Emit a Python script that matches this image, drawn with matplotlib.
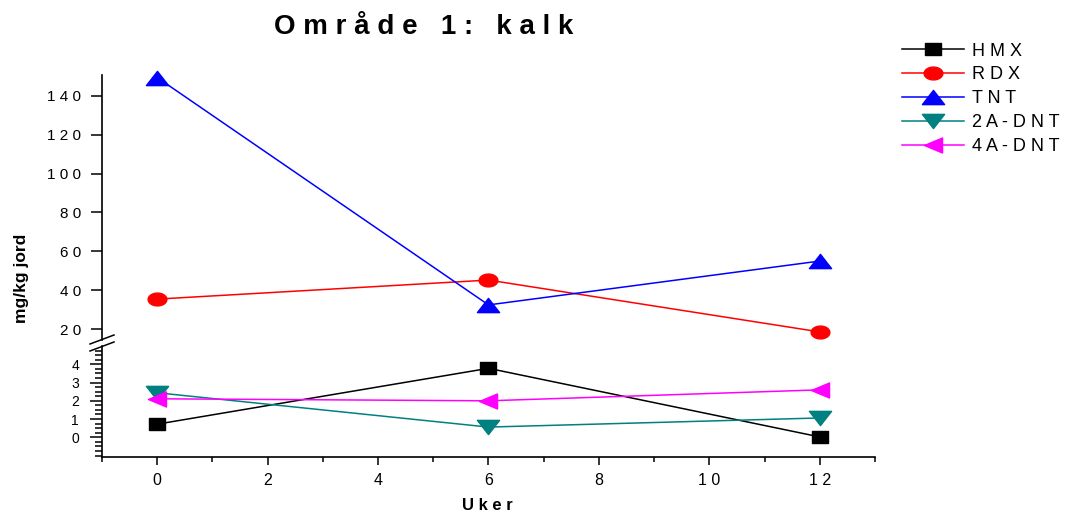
import numpy as np
import matplotlib
matplotlib.use("Agg")
import matplotlib.pyplot as plt
from matplotlib.path import Path
from matplotlib.lines import Line2D

plt.rcParams['font.family'] = ['Liberation Sans', 'DejaVu Sans']

# ---- data ----
weeks = [0, 6, 12]
hmx = [0.72, 3.78, 0.02]
rdx = [35.4, 45.2, 18.5]
tnt = [149.5, 32.4, 55.0]
a2dnt = [2.44, 0.56, 1.06]
a4dnt = [2.11, 2.0, 2.6]
labels = ["HMX", "RDX", "TNT", "2A-DNT", "4A-DNT"]
upper_ticks = [20, 40, 60, 80, 100, 120, 140]
lower_ticks = [0, 1, 2, 3, 4]
x_ticks = [0, 2, 4, 6, 8, 10, 12]


def sp(s):
    return ' '.join(s)


W, H = 1070, 513
fig = plt.figure(figsize=(W / 100, H / 100), dpi=100)


def fx(px):
    return px / W


def fy(py):
    return 1 - py / H


left, right = 102, 875
ax_up = fig.add_axes([fx(left), fy(340), fx(right - left), fy(75) - fy(340)])
ax_lo = fig.add_axes([fx(left), fy(457), fx(right - left), fy(346) - fy(457)])

# stretched markers
sq = Path([(-0.66, -0.5), (0.66, -0.5), (0.66, 0.5), (-0.66, 0.5), (-0.66, -0.5)],
          [1, 2, 2, 2, 79])
t = np.linspace(0, 2 * np.pi, 60)
ell = Path(np.column_stack([0.73 * np.cos(t), 0.5 * np.sin(t)]), closed=True)
tri_up = Path([(-0.78, -0.5), (0.78, -0.5), (0, 0.5), (-0.78, -0.5)], [1, 2, 2, 79])
tri_dn = Path([(-0.78, 0.5), (0.78, 0.5), (0, -0.5), (-0.78, 0.5)], [1, 2, 2, 79])
tri_lf = Path([(0.6, -0.5), (0.6, 0.5), (-0.6, 0), (0.6, -0.5)], [1, 2, 2, 79])

lw = 1.1
h1, = ax_lo.plot(weeks, hmx, color='black', lw=lw, marker=sq, ms=11.5, clip_on=False)
h2, = ax_up.plot(weeks, rdx, color='#ff0000', lw=lw, marker=ell, ms=13.5, clip_on=False)
h3, = ax_up.plot(weeks, tnt, color='#0000ff', lw=lw, marker=tri_up, ms=16, clip_on=False)
h4, = ax_lo.plot(weeks, a2dnt, color='#008080', lw=lw, marker=tri_dn, ms=16, clip_on=False)
h5, = ax_lo.plot(weeks, a4dnt, color='#ff00ff', lw=lw, marker=tri_lf, ms=13, clip_on=False)

# limits
ax_up.set_xlim(-1, 13)
ax_lo.set_xlim(-1, 13)
ax_up.set_ylim(20 - (340 - 329) / 1.9417, 140 + (96 - 75) / 1.9417)
ax_lo.set_ylim(-(457 - 437.3) / 18.25, (437.3 - 346) / 18.25)

for a in (ax_up, ax_lo):
    for s in ('top', 'right'):
        a.spines[s].set_visible(False)
    a.spines['left'].set_linewidth(1.2)
    a.spines['bottom'].set_linewidth(1.2)
    a.patch.set_visible(False)

ax_up.spines['bottom'].set_visible(False)
ax_up.tick_params(axis='x', which='both', bottom=False, labelbottom=False)

# upper y ticks
ax_up.set_yticks(upper_ticks)
ax_up.set_yticklabels([sp(str(v)) for v in upper_ticks])
ax_up.tick_params(axis='y', direction='out', length=8, width=1.1, labelsize=11, pad=7)

# lower y ticks
ax_lo.set_yticks(lower_ticks)
ax_lo.set_yticklabels([str(v) for v in lower_ticks])
ax_lo.set_yticks(np.arange(-1, 4.8, 0.25), minor=True)
ax_lo.tick_params(axis='y', which='major', direction='out', length=8.5, width=1.1,
                  labelsize=10, pad=8)
ax_lo.tick_params(axis='y', which='minor', direction='out', length=5, width=1.1)

# x ticks
ax_lo.set_xticks(x_ticks)
ax_lo.set_xticklabels([sp(str(v)) for v in x_ticks])
ax_lo.set_xticks(np.arange(-1, 14, 2), minor=True)
ax_lo.tick_params(axis='x', which='major', direction='out', length=5.5, width=1.1,
                  labelsize=11.5, pad=6)
ax_lo.tick_params(axis='x', which='minor', direction='out', length=3.5, width=1.1)

# break marks
for yb in (339.5, 346.5):
    fig.add_artist(Line2D([fx(90), fx(114)], [fy(yb + 4.5), fy(yb - 4.5)],
                          color='black', lw=1.1, transform=fig.transFigure))

# texts
fig.text(fx(424), fy(27), "O m r å d e   1 :   k a l k", ha='center', va='center',
         fontsize=20, fontweight='bold')
fig.text(fx(21.5), fy(278.5), "mg/kg jord", rotation=90, ha='center', va='center',
         fontsize=12.5, fontweight='bold')
fig.text(fx(487), fy(505), sp("Uker"), ha='center', va='center',
         fontsize=12, fontweight='bold')

fig.legend([h1, h2, h3, h4, h5], [sp(l) for l in labels], loc='upper left',
           bbox_to_anchor=(fx(902), fy(42.5)), frameon=False, borderaxespad=0,
           borderpad=0, handlelength=3.45, handletextpad=0.4, labelspacing=0.38,
           fontsize=13)

fig.savefig("out.png", dpi=100)
